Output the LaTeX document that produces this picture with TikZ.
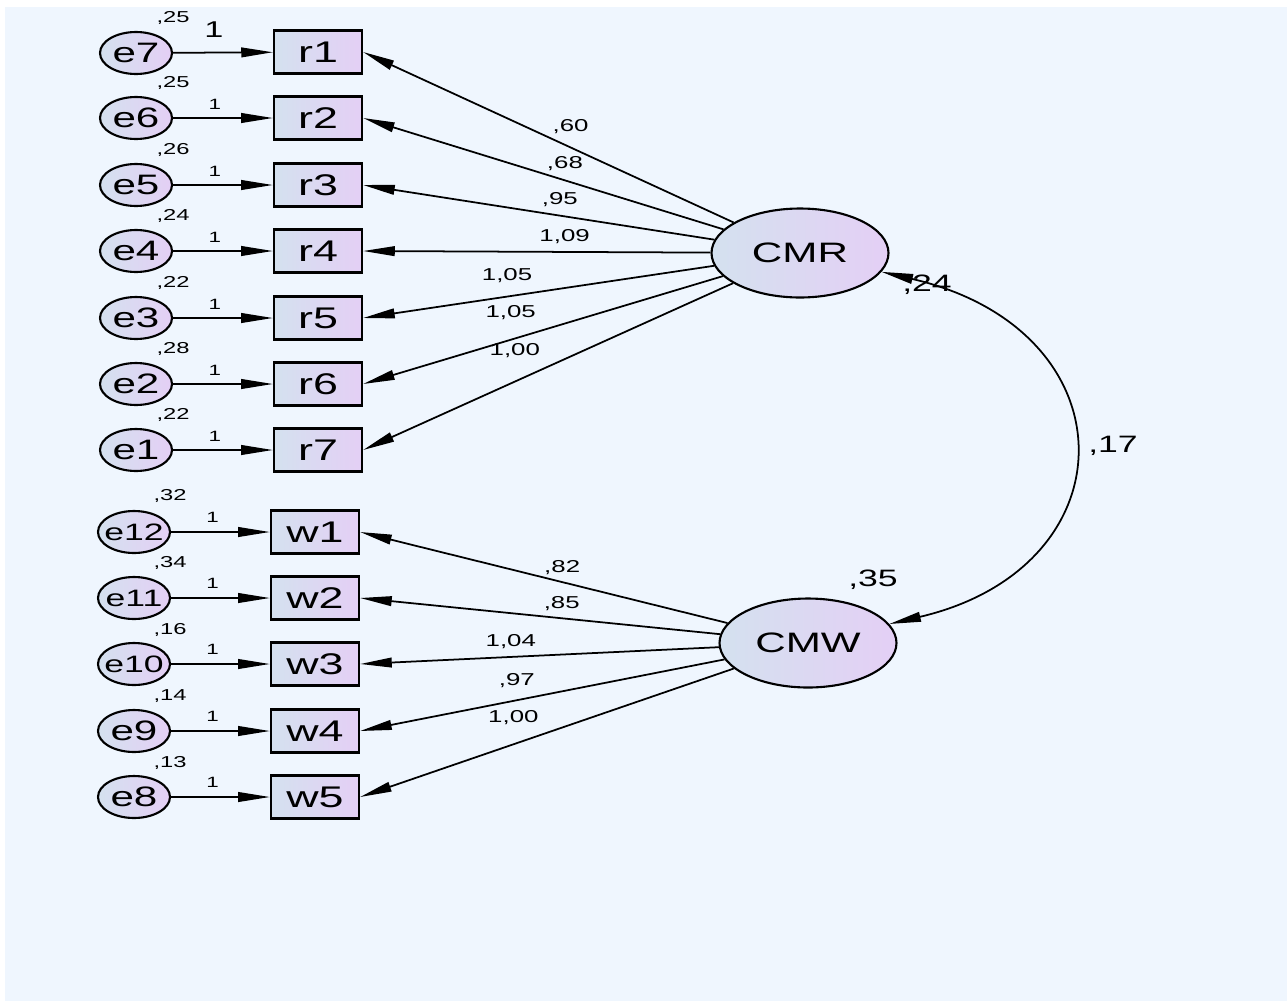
\documentclass[tikz,border=0pt]{standalone}
\usepackage{fontspec}
\setmainfont{Liberation Sans}[FakeStretch=1.5]
\usepackage{tikz}
\usetikzlibrary{arrows.meta}
\usetikzlibrary{shapes.geometric}
\definecolor{panelbg}{RGB}{239,246,254}
\definecolor{shadeA}{RGB}{212,225,239}
\definecolor{shadeB}{RGB}{228,207,245}
\tikzset{errvar/.style={draw=black, line width=1.2pt, ellipse, inner sep=0pt,
    minimum width=1.44cm, minimum height=0.84cm, left color=shadeA, right color=shadeB,
    font=\fontsize{16pt}{18pt}\selectfont}}
\tikzset{errsmall/.style={errvar, inner xsep=-3pt, font=\fontsize{13.5pt}{15pt}\selectfont}}
\tikzset{obsvar/.style={draw=black, line width=1.3pt, rectangle, inner sep=0pt,
    minimum width=1.76cm, minimum height=0.86cm, left color=shadeA, right color=shadeB,
    font=\fontsize{17pt}{19pt}\selectfont}}
\tikzset{latvar/.style={draw=black, line width=1.2pt, ellipse, inner sep=0pt,
    minimum width=3.54cm, minimum height=1.78cm, left color=shadeA, right color=shadeB,
    font=\fontsize{16pt}{18pt}\selectfont}}
\tikzset{varlbl/.style={inner sep=0pt, font=\fontsize{9pt}{10pt}\selectfont}}
\tikzset{onelbl/.style={inner sep=0pt, font=\fontsize{8.5pt}{10pt}\selectfont}}
\tikzset{onebig/.style={inner sep=0pt, font=\fontsize{13pt}{15pt}\selectfont}}
\tikzset{loadlbl/.style={inner sep=0pt, font=\fontsize{9.8pt}{11pt}\selectfont}}
\tikzset{bigvar/.style={inner sep=0pt, font=\fontsize{13.5pt}{15pt}\selectfont}}
\tikzset{arrow/.style={-{Triangle[length=18pt,width=5.5pt]}, line width=1pt}}
\tikzset{covarrow/.style={{Triangle[length=18pt,width=5.5pt]}-{Triangle[length=18pt,width=5.5pt]}, line width=1pt}}
\newcommand{\bgpanel}{
    \fill[white] (0,0) rectangle (1287,1001);
    \fill[panelbg] (5,7) rectangle (1287,1001);
}

\begin{document}
\begin{tikzpicture}[x=0.02cm, y=-0.02cm]
        \useasboundingbox (0,0) rectangle (1287,1001);
        \bgpanel

        % errors and indicators of CMR
        \node[errvar] (e7) at (136,53) {e7};
        \node[errvar] (e6) at (136,118) {e6};
        \node[errvar] (e5) at (136,185) {e5};
        \node[errvar] (e4) at (136,251) {e4};
        \node[errvar] (e3) at (136,318) {e3};
        \node[errvar] (e2) at (136,384) {e2};
        \node[errvar] (e1) at (136,450) {e1};

        \node[obsvar] (r1) at (318,52) {r1};
        \node[obsvar] (r2) at (318,118) {r2};
        \node[obsvar] (r3) at (318,185) {r3};
        \node[obsvar] (r4) at (318,251) {r4};
        \node[obsvar] (r5) at (318,318) {r5};
        \node[obsvar] (r6) at (318,384) {r6};
        \node[obsvar] (r7) at (318,450) {r7};

        % errors and indicators of CMW
        \node[errsmall] (e12) at (134,532) {e12};
        \node[errsmall] (e11) at (134,598) {e11};
        \node[errsmall] (e10) at (134,664) {e10};
        \node[errvar] (e9) at (134,731) {e9};
        \node[errvar] (e8) at (134,797) {e8};

        \node[obsvar] (w1) at (315,532) {w1};
        \node[obsvar] (w2) at (315,598) {w2};
        \node[obsvar] (w3) at (315,664) {w3};
        \node[obsvar] (w4) at (315,731) {w4};
        \node[obsvar] (w5) at (315,797) {w5};

        % latent factors
        \node[latvar] (CMR) at (800,253) {CMR};
        \node[latvar] (CMW) at (808,643) {CMW};

        % error variances
        \node[varlbl] (v7) at (173,18) {,25};
        \node[varlbl] (v6) at (173,83) {,25};
        \node[varlbl] (v5) at (173,150) {,26};
        \node[varlbl] (v4) at (173,216) {,24};
        \node[varlbl] (v3) at (173,283) {,22};
        \node[varlbl] (v2) at (173,349) {,28};
        \node[varlbl] (v1) at (173,415) {,22};
        \node[varlbl] (v12) at (170,496) {,32};
        \node[varlbl] (v11) at (170,563) {,34};
        \node[varlbl] (v10) at (170,630) {,16};
        \node[varlbl] (v9) at (170,696) {,14};
        \node[varlbl] (v8) at (170,763) {,13};

        \draw[arrow] (e7) -- (r1) node[onebig, pos=0.41, yshift=13pt] (f7) {1};
        \draw[arrow] (e6) -- (r2) node[onelbl, pos=0.42, yshift=8pt] (f6) {1};
        \draw[arrow] (e5) -- (r3) node[onelbl, pos=0.42, yshift=8pt] (f5) {1};
        \draw[arrow] (e4) -- (r4) node[onelbl, pos=0.42, yshift=8pt] (f4) {1};
        \draw[arrow] (e3) -- (r5) node[onelbl, pos=0.42, yshift=8pt] (f3) {1};
        \draw[arrow] (e2) -- (r6) node[onelbl, pos=0.42, yshift=8pt] (f2) {1};
        \draw[arrow] (e1) -- (r7) node[onelbl, pos=0.42, yshift=8pt] (f1) {1};
        \draw[arrow] (e12) -- (w1) node[onelbl, pos=0.42, yshift=8.5pt] (f12) {1};
        \draw[arrow] (e11) -- (w2) node[onelbl, pos=0.42, yshift=8.5pt] (f11) {1};
        \draw[arrow] (e10) -- (w3) node[onelbl, pos=0.42, yshift=8.5pt] (f10) {1};
        \draw[arrow] (e9) -- (w4) node[onelbl, pos=0.42, yshift=8.5pt] (f9) {1};
        \draw[arrow] (e8) -- (w5) node[onelbl, pos=0.42, yshift=8.5pt] (f8) {1};

        % loadings
        \draw[arrow] (CMR) -- (r1.east) node[loadlbl, pos=0.44, yshift=12pt] (l1) {,60};
        \draw[arrow] (CMR) -- (r2.east) node[loadlbl, pos=0.44, yshift=9.6pt] (l2) {,68};
        \draw[arrow] (CMR) -- (r3.east) node[loadlbl, pos=0.44, yshift=9pt] (l3) {,95};
        \draw[arrow] (CMR) -- (r4.east) node[loadlbl, pos=0.42, yshift=8.5pt] (l4) {1,09};
        \draw[arrow] (CMR) -- (r5.east) node[loadlbl, pos=0.59, yshift=12pt] (l5) {1,05};
        \draw[arrow] (CMR) -- (r6.east) node[loadlbl, pos=0.59, yshift=15.3pt] (l6) {1,05};
        \draw[arrow] (CMR) -- (r7.east) node[loadlbl, pos=0.59, yshift=17.6pt] (l7) {1,00};

        \draw[arrow] (CMW) -- (w1.east) node[loadlbl, pos=0.45, yshift=8.5pt] (m1) {,82};
        \draw[arrow] (CMW) -- (w2.east) node[loadlbl, pos=0.44, yshift=8.5pt] (m2) {,85};
        \draw[arrow] (CMW) -- (w3.east) node[loadlbl, pos=0.58, yshift=8.5pt] (m3) {1,04};
        \draw[arrow] (CMW) -- (w4.east) node[loadlbl, pos=0.57, yshift=11.3pt] (m4) {,97};
        \draw[arrow] (CMW) -- (w5.east) node[loadlbl, pos=0.59, yshift=15.4pt] (m5) {1,00};

        % covariance and factor variances
        \draw[covarrow] (CMR) .. controls (1133,330) and (1133,567) .. (CMW);
        \node[bigvar] (vCMR) at (927,285) {,24};
        \node[bigvar] (cov) at (1113,446) {,17};
        \node[bigvar] (vCMW) at (873,580) {,35};
\end{tikzpicture}
\end{document}
